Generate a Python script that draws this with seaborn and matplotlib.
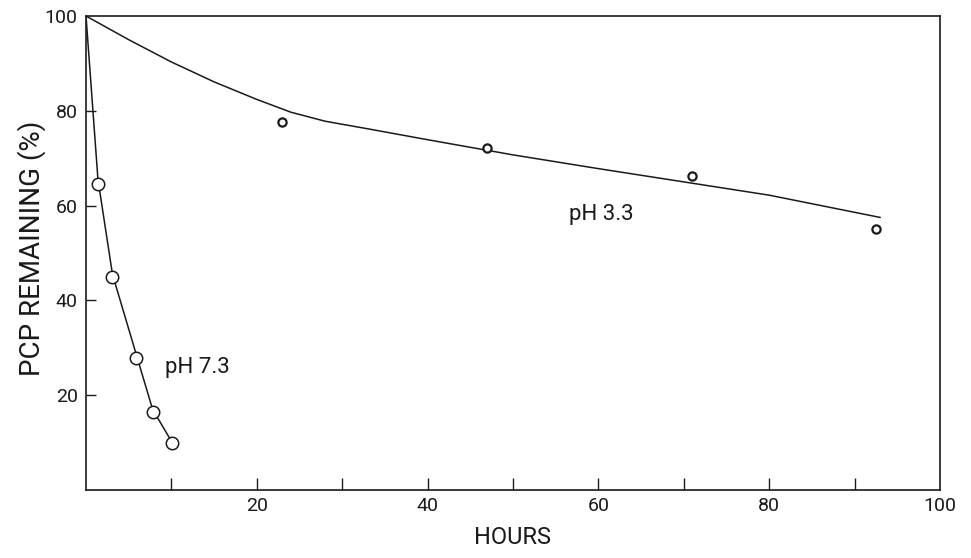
import numpy as np
import pandas as pd
import seaborn as sns
import matplotlib.pyplot as plt

# --- data ---
# pH 7.3 measurements
ph73_hours = [1.4, 3.1, 5.9, 7.8, 10.1]
ph73_pct = [64.5, 45.0, 27.8, 16.4, 10.0]
# pH 7.3 fitted curve (hand drawn)
ph73_fit_hours = [0, 1.4, 3.1, 5.9, 7.8, 10.1]
ph73_fit_pct = [100, 65.5, 45.5, 28.5, 17.0, 10.0]

# pH 3.3 measurements
ph33_hours = [23.0, 47.0, 71.0, 92.5]
ph33_pct = [77.6, 72.1, 66.2, 55.0]
# pH 3.3 fitted curve (hand drawn)
ph33_fit_hours = [0, 5, 10, 15, 20, 24, 28, 33, 40, 50, 60, 70, 80, 93]
ph33_fit_pct = [100, 95.0, 90.3, 86.1, 82.4, 79.7, 77.8, 76.2, 73.9, 70.7, 67.8, 65.0, 62.2, 57.5]

x_ticks = [10, 20, 30, 40, 50, 60, 70, 80, 90, 100]
x_tick_labels = ['', '20', '', '40', '', '60', '', '80', '', '100']
y_ticks = [20, 40, 60, 80, 100]

INK = '#1a1a1a'

sns.set_theme(style="white")
plt.rcParams['font.family'] = ['Roboto', 'DejaVu Sans']

fig = plt.figure(figsize=(9.71, 5.58), dpi=100)
ax = fig.add_axes([86 / 971, 68 / 558, (940 - 86) / 971, (490 - 16) / 558])

sns.lineplot(x=ph73_fit_hours, y=ph73_fit_pct, sort=False, estimator=None,
             color=INK, linewidth=1.1, ax=ax)
sns.lineplot(x=ph33_fit_hours, y=ph33_fit_pct, sort=False, estimator=None,
             color=INK, linewidth=1.1, ax=ax)

sns.scatterplot(x=ph73_hours, y=ph73_pct, s=80, marker='o',
                facecolor='white', edgecolor=INK, linewidth=1.1, zorder=3, ax=ax)
sns.scatterplot(x=ph33_hours, y=ph33_pct, s=35, marker='o',
                facecolor='white', edgecolor=INK, linewidth=1.6, zorder=3, ax=ax)

ax.set_xlim(0, 100)
ax.set_ylim(0, 100)
ax.set_xticks(x_ticks)
ax.set_xticklabels(x_tick_labels)
ax.set_yticks(y_ticks)

ax.tick_params(axis='x', bottom=True, direction='in', length=8.5, width=1.0, color=INK,
               labelsize=14, labelcolor=INK, pad=5)
ax.tick_params(axis='y', left=True, direction='in', length=7, width=1.0, color=INK,
               labelsize=14, labelcolor=INK, pad=6)
ax.yaxis.get_major_ticks()[-1].tick1line.set_visible(False)
ax.xaxis.get_major_ticks()[-1].tick1line.set_visible(False)

for sp in ax.spines.values():
    sp.set_color(INK)
    sp.set_linewidth(1.2)

ax.set_xlabel('HOURS', fontsize=17, color=INK, va='center')
ax.xaxis.set_label_coords(0.5, -(537 - 490) / 474)
ax.set_ylabel('PCP REMAINING (%)', fontsize=20, color=INK, va='center')
ax.yaxis.set_label_coords(-(86 - 32) / 854, (490 - 248) / 474)

ax.text(9.2, 25.8, 'pH 7.3', fontsize=16, color=INK, va='center', ha='left')
ax.text(56.5, 58.1, 'pH 3.3', fontsize=16, color=INK, va='center', ha='left')

fig.savefig('out.png', dpi=100, facecolor='white')
